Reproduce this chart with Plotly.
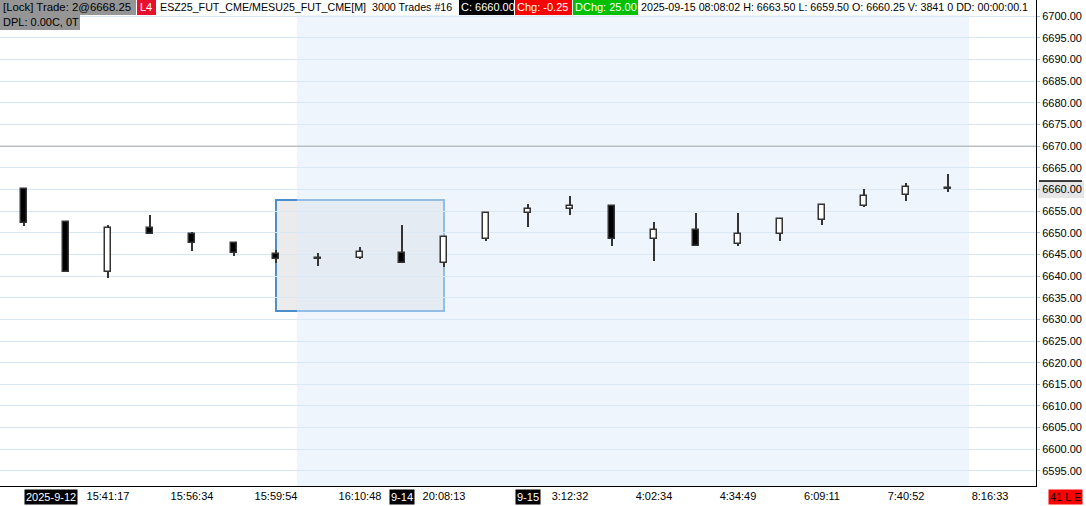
import plotly.graph_objects as go

# ---- data ----
idx = list(range(23))
opens  = [6660.00, 6652.50, 6641.00, 6651.00, 6649.75, 6647.75, 6645.00, 6644.25, 6644.25, 6645.25, 6643.00, 6648.50,
          6654.50, 6655.50, 6656.25, 6648.50, 6650.75, 6647.50, 6649.75, 6653.00, 6656.25, 6658.75, 6660.25]
highs  = [6660.00, 6652.50, 6651.75, 6654.00, 6650.25, 6647.75, 6646.00, 6645.25, 6646.75, 6651.75, 6649.25, 6654.50,
          6656.75, 6658.50, 6656.50, 6652.50, 6654.50, 6654.50, 6653.25, 6656.75, 6660.00, 6661.50, 6663.50]
lows   = [6651.50, 6641.00, 6639.50, 6649.75, 6645.75, 6644.75, 6643.00, 6642.25, 6644.00, 6643.00, 6642.00, 6648.00,
          6651.25, 6654.00, 6647.00, 6643.50, 6647.00, 6647.00, 6648.00, 6651.75, 6656.00, 6657.25, 6659.50]
closes = [6652.25, 6641.00, 6651.00, 6649.75, 6647.75, 6645.25, 6644.00, 6644.00, 6645.50, 6643.00, 6649.00, 6654.50,
          6655.50, 6656.25, 6648.50, 6650.75, 6647.00, 6649.75, 6653.25, 6656.50, 6658.50, 6660.50, 6660.00]

tick_idx = [2, 4, 6, 8, 10, 13, 15, 17, 19, 21, 23]
tick_text = ["15:41:17", "15:56:34", "15:59:54", "16:10:48", "20:08:13", "3:12:32",
             "4:02:34", "4:34:49", "6:09:11", "7:40:52", "8:16:33"]
date_idx = [0, 9, 12]
date_text = ["2025-9-12", "9-14", "9-15"]

ref_price = 6670.00
sel_x = [6, 10]
sel_y = [6631.94, 6657.58]
zone_x = [6.5, 22.5]
zone_y = [6580.0, 6700.3]

# ---- layout geometry ----
W, H = 1086, 506
ML, MR, MT, MB = 0, 50, 0, 20
PW, PH = W - ML - MR, H - MT - MB
FONT = "Liberation Sans"

def px(xp):  # pixel x -> paper
    return xp / PW

def py(yp):  # pixel y -> paper
    return 1 - yp / PH

body_base = [min(o, c) for o, c in zip(opens, closes)]
body_len = [max(abs(c - o), 0.25) for o, c in zip(opens, closes)]
body_fill = ["#ffffff" if c > o else "#000000" for o, c in zip(opens, closes)]
wick_len = [h - l for h, l in zip(highs, lows)]

fig = go.Figure()
fig.add_trace(go.Bar(x=idx, base=lows, y=wick_len, width=0.06,
                     marker=dict(color="#333333", line=dict(width=0)),
                     hoverinfo="skip", showlegend=False))
fig.add_trace(go.Bar(x=idx, base=body_base, y=body_len, width=0.125,
                     marker=dict(color=body_fill, line=dict(color="#333333", width=1.5)),
                     hoverinfo="skip", showlegend=False))

shapes = [
    # selection box (underneath gridlines)
    dict(type="rect", xref="x", yref="y", x0=sel_x[0], x1=sel_x[1], y0=sel_y[0], y1=sel_y[1],
         fillcolor="#ebebeb", line=dict(color="rgb(74,143,204)", width=2), layer="below"),
    # session zone, tinting the selection box where they overlap
    dict(type="rect", xref="x", yref="y", x0=zone_x[0], x1=zone_x[1], y0=zone_y[0], y1=zone_y[1],
         fillcolor="rgba(221,235,251,0.5)", line=dict(width=0), layer="between"),
    # reference line
    dict(type="line", xref="x", yref="y", x0=-2, x1=26, y0=ref_price, y1=ref_price,
         line=dict(color="#a8a8a8", width=1), layer="between"),
    # last price label highlight
    dict(type="rect", xref="paper", yref="paper", x0=px(1038), x1=px(1084), y0=py(198), y1=py(181),
         fillcolor="#e6e6e6", line=dict(width=0), layer="below"),
    dict(type="line", xref="paper", yref="paper", x0=px(1039), x1=px(1082), y0=py(181), y1=py(181),
         line=dict(color="#000000", width=1.5), layer="above"),
]

# header boxes: (x0px, x1px, y0px, y1px, color)
header_boxes = [
    (0, 136, 0, 15, "#959595"),
    (137, 156, 0, 15, "#e8112d"),
    (459, 514, 0, 15, "#000000"),
    (515, 572, 0, 15, "#ff0000"),
    (573, 638, 0, 15, "#00c000"),
    (0, 80, 15, 30, "#959595"),
]
for x0, x1, y0, y1, col in header_boxes:
    shapes.append(dict(type="rect", xref="paper", yref="paper", x0=px(x0), x1=px(x1),
                       y0=py(y1), y1=py(y0), fillcolor=col, line=dict(width=0), layer="above"))

header_texts = [
    (2, 7.5, "[Lock] Trade: 2@6668.25", "#000000", 11.4),
    (139, 7.5, "L4", "#ffffff", 11),
    (159, 7.5, "ESZ25_FUT_CME/MESU25_FUT_CME[M] \u00a03000 Trades #16", "#000000", 10.7),
    (460, 7.5, "C: 6660.00", "#ffffff", 11),
    (516, 7.5, "Chg: -0.25", "#ffffff", 11),
    (574, 7.5, "DChg: 25.00", "#ffffff", 11),
    (640, 7.5, "2025-09-15 08:08:02 H: 6663.50 L: 6659.50 O: 6660.25 V: 3841 0 DD: 00:00:00.1", "#000000", 10.7),
    (2, 22.5, "DPL: 0.00C, 0T", "#000000", 11),
]
annotations = []
for x, y, t, col, fs in header_texts:
    annotations.append(dict(xref="paper", yref="paper", x=px(x), y=py(y), xanchor="left", yanchor="middle",
                            text=t, showarrow=False, font=dict(family=FONT, size=fs, color=col),
                            borderpad=0))

for i, t in zip(date_idx, date_text):
    annotations.append(dict(xref="x", yref="paper", x=i, y=py(496.5),
                            xanchor="left" if i == 0 else "center", yanchor="middle",
                            text=t, showarrow=False, bgcolor="#000000",
                            font=dict(family=FONT, size=11, color="#ffffff"), borderpad=1))

annotations.append(dict(xref="paper", yref="paper", x=px(1048), y=py(497), xanchor="left", yanchor="middle",
                        text="41 L E", showarrow=False, bgcolor="#ff0000",
                        font=dict(family=FONT, size=11, color="#000000"), borderpad=1))

fig.update_layout(
    width=W, height=H,
    margin=dict(l=ML, r=MR, t=MT, b=MB),
    paper_bgcolor="#ffffff", plot_bgcolor="#ffffff",
    barmode="overlay", bargap=0,
    showlegend=False,
    shapes=shapes, annotations=annotations,
    font=dict(family=FONT, size=11, color="#000000"),
    xaxis=dict(range=[-0.571, 24.095], showgrid=False, zeroline=False,
               showline=True, linecolor="#000000", linewidth=1,
               tickmode="array", tickvals=tick_idx, ticktext=tick_text, ticks="",
               tickfont=dict(family=FONT, size=11, color="#000000"), fixedrange=True),
    yaxis=dict(range=[6591.52, 6703.76], side="right", tick0=6595, dtick=5, tickformat=".2f",
               showgrid=True, gridcolor="#d6e7f1", gridwidth=1, zeroline=False,
               showline=True, linecolor="#000000", linewidth=1,
               ticks="outside", ticklen=3, tickcolor="#9fbfd6",
               tickfont=dict(family=FONT, size=11, color="#000000"), fixedrange=True),
)

fig.write_html("out.html", config={"displayModeBar": False},
               post_script="document.body.style.margin='0';document.body.style.padding='0';")
